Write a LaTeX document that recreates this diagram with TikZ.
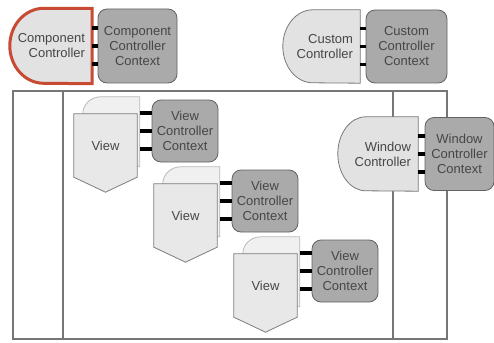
\documentclass[tikz,border=0pt]{standalone}
\usepackage{fontspec}
\setmainfont{Liberation Sans}

\pgfdeclarelayer{frame}
\pgfdeclarelayer{bg}
\pgfsetlayers{frame,bg,main}

\definecolor{txtgray}{RGB}{70,70,70}
\definecolor{ctrlfill}{RGB}{226,226,226}
\definecolor{ctrlline}{RGB}{120,120,120}
\definecolor{ctxfill}{RGB}{170,170,170}
\definecolor{ctxline}{RGB}{98,98,98}
\definecolor{viewfill}{RGB}{232,232,232}
\definecolor{viewline}{RGB}{125,125,125}
\definecolor{backfill}{RGB}{240,240,240}
\definecolor{backline}{RGB}{185,185,185}
\definecolor{outerline}{RGB}{118,118,118}
\definecolor{hilite}{RGB}{200,74,50}

\tikzset{
  lbl/.style={font=\fontsize{13}{15}\selectfont, text=txtgray},
  ctrl/.style={lbl, align=right, inner xsep=7pt, inner ysep=0pt},
  ctrlshape/.style={draw=ctrlline, fill=ctrlfill, line width=0.8pt},
  ctx/.style={lbl, align=center, draw=ctxline, fill=ctxfill, rounded corners=9pt,
    line width=0.8pt, inner sep=0pt},
  viewpage/.style={draw=viewline, fill=viewfill, line width=0.8pt},
  viewback/.style={draw=backline, fill=backfill, line width=0.8pt},
  bar/.style={line width=3.2pt, black},
  outer/.style={draw=outerline, line width=1.2pt},
}

\begin{document}
\begin{tikzpicture}[x=1pt, y=-1pt]
  \useasboundingbox (0,0) rectangle (494,342);

  % controllers and their contexts
  \node[ctrl, text width=68pt, minimum height=75pt] (comp) at (51,46) {Component\\Controller};
  \node[ctx, minimum width=79pt, minimum height=74pt] (compctx) at (137.5,46) {Component\\Controller\\Context};
  \node[ctrl, text width=63pt, minimum height=73pt] (cust) at (321.5,46.5) {Custom\\Controller};
  \node[ctx, minimum width=81pt, minimum height=73pt] (custctx) at (406.5,46.5) {Custom\\Controller\\Context};
  \node[ctrl, text width=66pt, minimum height=74pt] (win) at (378,154) {Window\\Controller};
  \node[ctx, minimum width=69pt, minimum height=73pt] (winctx) at (459.5,154) {Window\\Controller\\Context};

  \begin{pgfonlayer}{bg}
    \draw[ctrlshape, draw=hilite, line width=3pt] (comp.north east) -- ([xshift=34pt]comp.north west)
      arc[start angle=90, end angle=270, x radius=34pt, y radius=37.5pt] -- (comp.south east) -- cycle;
    \draw[ctrlshape] (cust.north east) -- ([xshift=30pt]cust.north west)
      arc[start angle=90, end angle=270, x radius=30pt, y radius=36.5pt] -- (cust.south east) -- cycle;
    \draw[ctrlshape] (win.north east) -- ([xshift=28pt]win.north west)
      arc[start angle=90, end angle=270, x radius=28pt, y radius=37pt] -- (win.south east) -- cycle;
  \end{pgfonlayer}

  \foreach \d in {-18,0,18} {
    \draw[bar] ([yshift=\d pt]comp.east) -- ([yshift=\d pt]compctx.west);
    \draw[bar] ([yshift=\d pt]cust.east) -- ([yshift=\d pt]custctx.west);
    \draw[bar] ([yshift=\d pt]win.east) -- ([yshift=\d pt]winctx.west);
  }

  % the window frame
  \begin{pgfonlayer}{frame}
    \draw[outer] (13,91) rectangle (447,339);
    \draw[outer] (63,91) -- (63,339);
    \draw[outer] (393,91) -- (393,339);
  \end{pgfonlayer}

  % views, each with a page behind it
  \foreach \i/\vx/\vy in {1/105.5/145.5, 2/185.5/215.5, 3/265.5/285.5} {
    \node[lbl, minimum size=63pt, inner sep=0pt] (view\i) at (\vx,\vy) {View};
    \node[ctx, minimum width=66pt, minimum height=62pt] (vctx\i) at (\vx+79.5,\vy-14.5) {View\\Controller\\Context};
    \begin{pgfonlayer}{bg}
      \draw[viewback] ([xshift=9pt]view\i.north west)
        arc[start angle=180, end angle=90, x radius=18pt, y radius=17pt]
        -- ([xshift=66pt,yshift=17pt]view\i.north west) coordinate (back\i)
        -- ([xshift=66pt,yshift=-53pt]view\i.north west)
        -- ([xshift=9pt,yshift=-53pt]view\i.north west) -- cycle;
      \draw[viewpage] (view\i.north west) -- (view\i.north east) -- (view\i.south east)
        -- ([yshift=-15pt]view\i.south) -- (view\i.south west) -- cycle;
    \end{pgfonlayer}
    \foreach \d in {-18,0,18}
      \draw[bar] ([yshift=\d pt]vctx\i.west) -- ([yshift=\d pt]vctx\i.west -| back\i);
  }
\end{tikzpicture}
\end{document}
